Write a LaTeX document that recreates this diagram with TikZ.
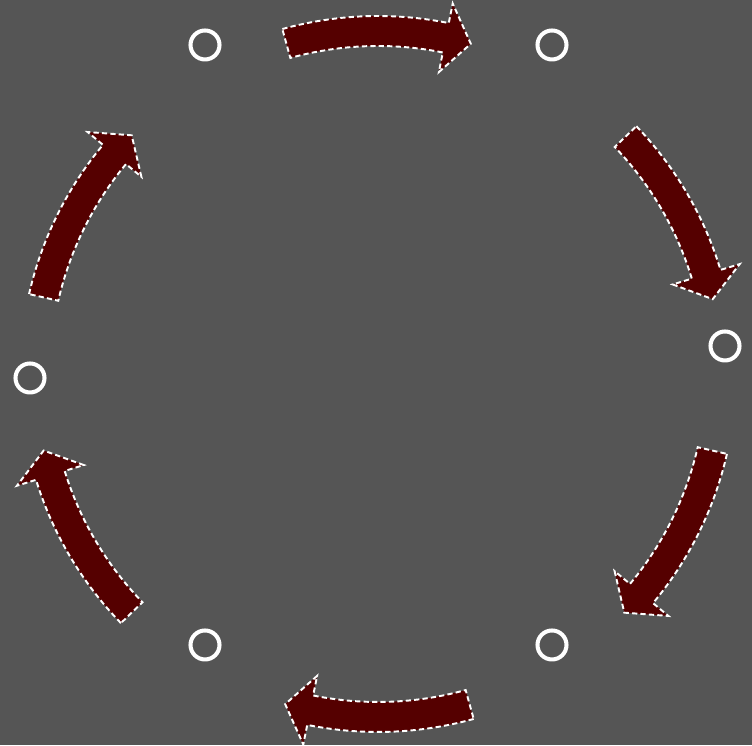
\documentclass[tikz,border=0pt]{standalone}
\usetikzlibrary{calc}

\definecolor{bggray}{RGB}{85,85,85}
\definecolor{arrowred}{RGB}{85,0,0}

\tikzset{
  ring/.style={circle,draw=white,line width=2.3pt,minimum size=0.58cm,inner sep=0pt},
  bigarrow/.style={fill=arrowred,draw=white,line width=1.1pt,dash pattern=on 3pt off 1.8pt,line join=miter}
}

% one curved arrow, clockwise, starting at angle #1 around the origin
\newcommand{\cyclearrow}[1]{%
  \draw[bigarrow] (#1:358) arc[start angle=#1,end angle=#1-26.9,radius=358]
    -- (#1-26.9:378) -- (#1-31.2:343) -- (#1-26.9:308) -- (#1-26.9:328)
    arc[start angle=#1-26.9,end angle=#1,radius=328] -- cycle;}

\begin{document}
\begin{tikzpicture}[x=0.02cm,y=0.02cm,line join=round]
  \fill[bggray] (0,0) rectangle (752,745);
  % stations
  \node[ring] (topl) at (205,700) {};
  \node[ring] (topr) at (552,700) {};
  \node[ring] (right) at (725,399) {};
  \node[ring] (botr) at (552,100) {};
  \node[ring] (botl) at (205,100) {};
  \node[ring] (left) at (30,367) {};
  % arrows of the cycle
  \begin{scope}[shift={(378,371)}]
    \foreach \t in {105.5,43.8,-12.9,-74.5,-135.9,167.1}
      {\cyclearrow{\t}}
  \end{scope}
\end{tikzpicture}
\end{document}
